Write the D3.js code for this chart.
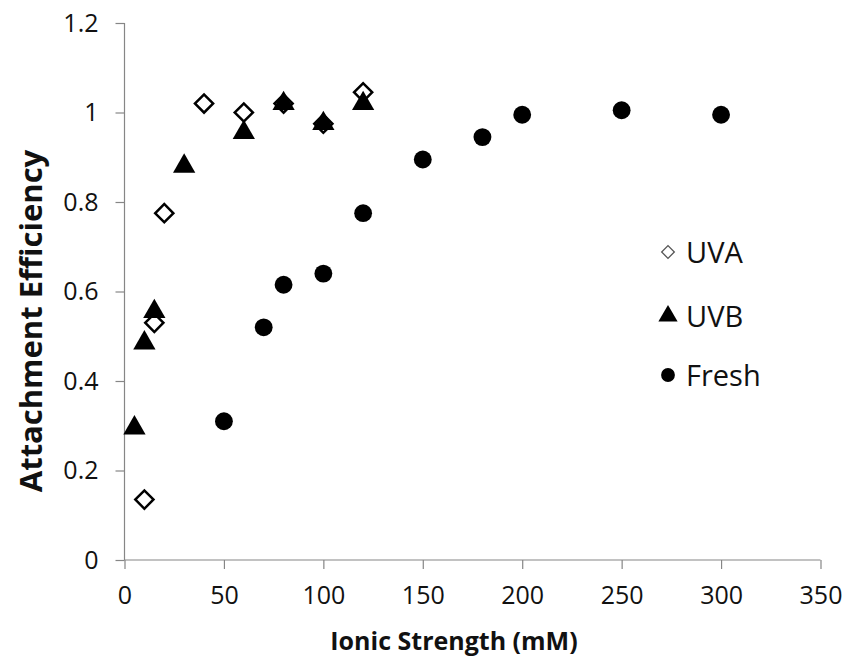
<!DOCTYPE html>
<html>
<head>
<meta charset="utf-8">
<script src="https://cdn.jsdelivr.net/npm/d3@7"></script>
<style>
	body { margin: 0; background: white; }
	text { font-family: "Open Sans", "Liberation Sans", sans-serif; fill: #111; }
</style>
</head>
<body>
<script>
var uvaX = [10, 15, 20, 40, 60, 80, 100, 120]
var uvaY = [0.135, 0.53, 0.775, 1.02, 1.0, 1.02, 0.975, 1.045]
var uvbX = [5, 10, 15, 30, 60, 80, 100, 120]
var uvbY = [0.295, 0.485, 0.555, 0.88, 0.955, 1.02, 0.975, 1.02]
var freshX = [50, 70, 80, 100, 120, 150, 180, 200, 250, 300]
var freshY = [0.31, 0.52, 0.615, 0.64, 0.775, 0.895, 0.945, 0.995, 1.005, 0.995]
var xTicks = [0, 50, 100, 150, 200, 250, 300, 350]
var yTicks = [0, 0.2, 0.4, 0.6, 0.8, 1, 1.2]
var seriesNames = ['UVA', 'UVB', 'Fresh']

var width = 846,
	height = 659

var svg = d3.select("body").append("svg")
	.attr("width", width)
	.attr("height", height)

var x = d3.scaleLinear().domain([0, 350]).range([124.5, 820.5])
var y = d3.scaleLinear().domain([0, 1.2]).range([560, 23])

// axes
var xAxis = svg.append("g")
	.attr("transform", "translate(0," + y(0) + ")")
	.call(d3.axisBottom(x).tickValues(xTicks).tickSize(9).tickPadding(17).tickFormat(d3.format("d")))
var yAxis = svg.append("g")
	.attr("transform", "translate(" + x(0) + ",0)")
	.call(d3.axisLeft(y).tickValues(yTicks).tickSize(9).tickPadding(17).tickFormat(d => d3.format("")(d)))

svg.selectAll(".domain, .tick line").attr("stroke", "#868686").attr("stroke-width", 1.2)
svg.selectAll(".tick text").style("font-size", "25px").attr("fill", "#111")
xAxis.selectAll(".domain").attr("d", "M" + x(0) + ",0H" + x(350))
yAxis.selectAll(".domain").attr("d", "M0," + y(0) + "V" + y(1.2))

// titles
svg.append("text")
	.attr("x", 454)
	.attr("y", 650)
	.attr("text-anchor", "middle")
	.style("font-size", "25px")
	.style("font-weight", "bold")
	.text("Ionic Strength (mM)")

svg.append("text")
	.attr("transform", "translate(42,321) rotate(-90)")
	.attr("text-anchor", "middle")
	.style("font-size", "31px")
	.style("font-weight", "bold")
	.text("Attachment Efficiency")

var diamond = d3.symbol().type(d3.symbolSquare).size(165)
var tri = d3.symbol().type(d3.symbolTriangle).size(215)
var circ = d3.symbol().type(d3.symbolCircle).size(250)

function pts(xs, ys) {
	return xs.map((v, i) => [v, ys[i]])
}

svg.append("g").selectAll("path")
	.data(pts(freshX, freshY))
	.enter()
	.append("path")
		.attr("d", circ)
		.attr("transform", d => "translate(" + x(d[0]) + "," + y(d[1]) + ")")
		.attr("fill", "black")

svg.append("g").selectAll("path")
	.data(pts(uvaX, uvaY))
	.enter()
	.append("path")
		.attr("d", diamond)
		.attr("transform", d => "translate(" + x(d[0]) + "," + y(d[1]) + ") rotate(45)")
		.attr("fill", "white")
		.attr("stroke", "black")
		.attr("stroke-width", 2.5)

svg.append("g").selectAll("path")
	.data(pts(uvbX, uvbY))
	.enter()
	.append("path")
		.attr("d", tri)
		.attr("transform", d => "translate(" + x(d[0]) + "," + y(d[1]) + ")")
		.attr("fill", "black")

// LEGEND
var legSyms = [
	d3.symbol().type(d3.symbolSquare).size(80),
	d3.symbol().type(d3.symbolTriangle).size(160),
	d3.symbol().type(d3.symbolCircle).size(150)
]
var legY = [252, 316, 375]
var leg = svg.append("g")
seriesNames.forEach(function (name, i) {
	var cy = legY[i]
	leg.append("path")
		.attr("d", legSyms[i])
		.attr("transform", "translate(668," + cy + ")" + (i == 0 ? " rotate(45)" : ""))
		.attr("fill", i == 0 ? "white" : "black")
		.attr("stroke", i == 0 ? "#555" : "none")
		.attr("stroke-width", 1.3)
	leg.append("text")
		.attr("x", 686)
		.attr("y", cy + 11)
		.style("font-size", "29px")
		.text(name)
})
</script>
</body>
</html>
